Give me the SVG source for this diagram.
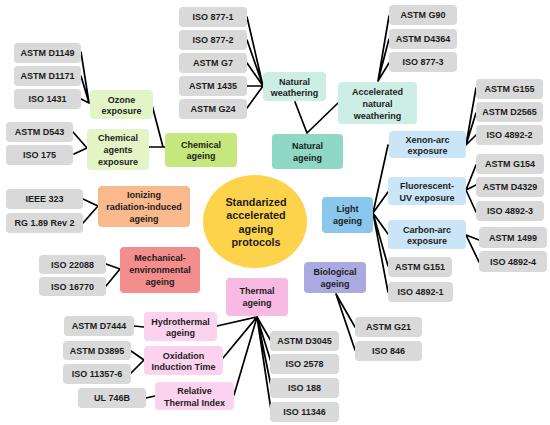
<svg xmlns="http://www.w3.org/2000/svg" width="550" height="425" viewBox="0 0 550 425">
<style>
.g rect{fill:#d9d9d9}
rect{rx:4}
text{font-family:"Liberation Sans",Arial,sans-serif;font-weight:bold;font-size:9px;fill:#1c1c1c;text-anchor:middle}
.c text{font-size:10.8px}
.lg rect{fill:#e3f5c6}
.cg rect{fill:#c6e77e}
.lt rect{fill:#cdeee5}
.tl rect{fill:#8ed8c5}
.lb rect{fill:#c9e5f7}
.bl rect{fill:#8bc6ec}
.bio rect{fill:#a9aae0}
.or rect{fill:#f9b98c}
.rd rect{fill:#f38e8d}
.pk rect{fill:#f8b9e2}
.lp rect{fill:#fcd3ef}
#connectors path{fill:none;stroke:#000;stroke-width:1.7;stroke-linecap:round;stroke-linejoin:round}
</style>
<rect width="550" height="425" fill="#fff" rx="0"/>

<g id="connectors">
<path d="M247,17 L263,86 M247,40 L263,86 M247,63 L263,86 M247,86 L263,86 M247,108 L263,86"/>
<path d="M389,16 L378,81 M389,39 L378,81 M389,63 L378,81"/>
<path d="M295,102 L307,133 L338,103"/>
<path d="M81,52 L89,103 M81,76 L89,103 M81,99 L89,103"/>
<path d="M73,132 L87,148 M74,154 L87,148"/>
<path d="M152,105 L163,147 M149,147 L165,147"/>
<path d="M83,199 L98,206 M83,223 L98,206"/>
<path d="M106,264 L120,269 M106,286 L120,269"/>
<path d="M373,213 L388,145 M373,213 L388,192 M373,213 L388,234 M373,213 L388,266 M373,213 L388,292"/>
<path d="M476,88 L466,145 M476,113 L466,145 M476,135 L466,145"/>
<path d="M476,165 L466,190 M476,185 L466,190 M476,212 L466,190"/>
<path d="M479,240 L466,235 M479,262 L466,235"/>
<path d="M336,294 L355,327 M336,294 L355,350"/>
<path d="M257,317 L217,326 M257,317 L223,358 M257,317 L234,395 M257,317 L271,341 M257,317 L271,362 M257,317 L271,386 M257,317 L271,410"/>
<path d="M134,326 L144,327 M131,351 L144,360 M131,373 L144,360 M146,398 L155,396"/>
</g>

<g id="center" class="c">
<ellipse cx="255" cy="221.5" rx="52" ry="46.5" fill="#fed34c"/>
<text x="256" y="206">Standarized</text>
<text x="256" y="219.3">accelerated</text>
<text x="256" y="232.6">ageing</text>
<text x="256" y="245.9">protocols</text>
</g>

<g id="chemical-ageing" class="cg"><rect x="165" y="133" width="72" height="34"/><text x="201" y="147.5">Chemical</text><text x="201" y="159">ageing</text></g>
<g id="ozone-exposure" class="lg"><rect x="90" y="90" width="63" height="29"/><text x="121.5" y="102.5">Ozone</text><text x="121.5" y="114">exposure</text></g>
<g id="chemical-agents-exposure" class="lg"><rect x="87" y="129" width="62" height="41"/><text x="118" y="141">Chemical</text><text x="118" y="153">agents</text><text x="118" y="165">exposure</text></g>
<g id="astm-d1149" class="g"><rect x="14" y="43" width="67" height="20"/><text x="47.5" y="56">ASTM D1149</text></g>
<g id="astm-d1171" class="g"><rect x="14" y="66" width="67" height="20"/><text x="47.5" y="79">ASTM D1171</text></g>
<g id="iso-1431" class="g"><rect x="14" y="89" width="67" height="20"/><text x="47.5" y="102">ISO 1431</text></g>
<g id="astm-d543" class="g"><rect x="6" y="122" width="67" height="20"/><text x="39.5" y="135">ASTM D543</text></g>
<g id="iso-175" class="g"><rect x="6" y="145" width="67" height="20"/><text x="39.5" y="158">ISO 175</text></g>

<g id="natural-ageing" class="tl"><rect x="272" y="134" width="71" height="35"/><text x="307.5" y="149">Natural</text><text x="307.5" y="160.5">ageing</text></g>
<g id="natural-weathering" class="lt"><rect x="263" y="72" width="63" height="29"/><text x="294.5" y="84.5">Natural</text><text x="294.5" y="96">weathering</text></g>
<g id="accelerated-natural-weathering" class="lt"><rect x="338" y="82" width="79" height="42"/><text x="377.5" y="94.5">Accelerated</text><text x="377.5" y="106.5">natural</text><text x="377.5" y="118.5">weathering</text></g>
<g id="iso-877-1" class="g"><rect x="179" y="7" width="68" height="20"/><text x="213" y="20">ISO 877-1</text></g>
<g id="iso-877-2" class="g"><rect x="179" y="30" width="68" height="20"/><text x="213" y="43">ISO 877-2</text></g>
<g id="astm-g7" class="g"><rect x="179" y="53" width="68" height="20"/><text x="213" y="66">ASTM G7</text></g>
<g id="astm-1435" class="g"><rect x="179" y="76" width="68" height="20"/><text x="213" y="89">ASTM 1435</text></g>
<g id="astm-g24" class="g"><rect x="179" y="99" width="68" height="20"/><text x="213" y="112">ASTM G24</text></g>
<g id="astm-g90" class="g"><rect x="389" y="5" width="68" height="20"/><text x="423" y="18">ASTM G90</text></g>
<g id="astm-d4364" class="g"><rect x="389" y="29" width="68" height="20"/><text x="423" y="42">ASTM D4364</text></g>
<g id="iso-877-3" class="g"><rect x="389" y="52" width="68" height="20"/><text x="423" y="65">ISO 877-3</text></g>

<g id="light-ageing" class="bl"><rect x="322" y="197" width="51" height="36"/><text x="347.5" y="212">Light</text><text x="347.5" y="223.5">ageing</text></g>
<g id="xenon-arc-exposure" class="lb"><rect x="389" y="131" width="77" height="27"/><text x="427.5" y="142.5">Xenon-arc</text><text x="427.5" y="154">exposure</text></g>
<g id="fluorescent-uv-exposure" class="lb"><rect x="388" y="177" width="78" height="28"/><text x="427" y="189">Fluorescent-</text><text x="427" y="200.5">UV exposure</text></g>
<g id="carbon-arc-exposure" class="lb"><rect x="388" y="220" width="78" height="29"/><text x="427" y="232.5">Carbon-arc</text><text x="427" y="244">exposure</text></g>
<g id="astm-g155" class="g"><rect x="476" y="79" width="67" height="20"/><text x="509.5" y="92">ASTM G155</text></g>
<g id="astm-d2565" class="g"><rect x="476" y="102" width="67" height="20"/><text x="509.5" y="115">ASTM D2565</text></g>
<g id="iso-4892-2" class="g"><rect x="476" y="125" width="67" height="20"/><text x="509.5" y="138">ISO 4892-2</text></g>
<g id="astm-g154" class="g"><rect x="476" y="154" width="68" height="20"/><text x="510" y="167">ASTM G154</text></g>
<g id="astm-d4329" class="g"><rect x="476" y="177" width="68" height="20"/><text x="510" y="190">ASTM D4329</text></g>
<g id="iso-4892-3" class="g"><rect x="476" y="201" width="68" height="20"/><text x="510" y="214">ISO 4892-3</text></g>
<g id="astm-1499" class="g"><rect x="479" y="227" width="68" height="21"/><text x="513" y="240.5">ASTM 1499</text></g>
<g id="iso-4892-4" class="g"><rect x="479" y="251" width="68" height="21"/><text x="513" y="264.5">ISO 4892-4</text></g>
<g id="astm-g151" class="g"><rect x="388" y="257" width="64" height="20"/><text x="420" y="270">ASTM G151</text></g>
<g id="iso-4892-1" class="g"><rect x="388" y="282" width="65" height="20"/><text x="420.5" y="295">ISO 4892-1</text></g>

<g id="biological-ageing" class="bio"><rect x="304" y="262" width="62" height="31"/><text x="335" y="275">Biological</text><text x="335" y="286.5">ageing</text></g>
<g id="astm-g21" class="g"><rect x="355" y="317" width="67" height="20"/><text x="388.5" y="330">ASTM G21</text></g>
<g id="iso-846" class="g"><rect x="355" y="341" width="67" height="20"/><text x="388.5" y="354">ISO 846</text></g>

<g id="ionizing-radiation-induced-ageing" class="or"><rect x="98" y="186" width="92" height="41"/><text x="144" y="198">Ionizing</text><text x="144" y="210">radiation-induced</text><text x="144" y="222">ageing</text></g>
<g id="ieee-323" class="g"><rect x="6" y="189" width="77" height="20"/><text x="44.5" y="202">IEEE 323</text></g>
<g id="rg-189-rev-2" class="g"><rect x="6" y="213" width="77" height="20"/><text x="44.5" y="226">RG 1.89 Rev 2</text></g>

<g id="mechanical-environmental-ageing" class="rd"><rect x="120" y="247" width="80" height="46"/><text x="160" y="261">Mechanical-</text><text x="160" y="273">environmental</text><text x="160" y="285">ageing</text></g>
<g id="iso-22088" class="g"><rect x="39" y="255" width="67" height="19"/><text x="72.5" y="267.5">ISO 22088</text></g>
<g id="iso-16770" class="g"><rect x="39" y="277" width="67" height="19"/><text x="72.5" y="289.5">ISO 16770</text></g>

<g id="thermal-ageing" class="pk"><rect x="226" y="278" width="62" height="38"/><text x="257" y="294">Thermal</text><text x="257" y="305.5">ageing</text></g>
<g id="hydrothermal-ageing" class="lp"><rect x="144" y="312" width="73" height="29"/><text x="180.5" y="324.5">Hydrothermal</text><text x="180.5" y="336">ageing</text></g>
<g id="oxidation-induction-time" class="lp"><rect x="144" y="346" width="79" height="29"/><text x="183.5" y="358.5">Oxidation</text><text x="183.5" y="370">Induction Time</text></g>
<g id="relative-thermal-index" class="lp"><rect x="155" y="382" width="79" height="28"/><text x="194.5" y="394">Relative</text><text x="194.5" y="405.5">Thermal Index</text></g>
<g id="astm-d7444" class="g"><rect x="64" y="316" width="70" height="20"/><text x="99" y="329">ASTM D7444</text></g>
<g id="astm-d3895" class="g"><rect x="63" y="341" width="68" height="19"/><text x="97" y="353.5">ASTM D3895</text></g>
<g id="iso-11357-6" class="g"><rect x="63" y="364" width="68" height="20"/><text x="97" y="377">ISO 11357-6</text></g>
<g id="ul-746b" class="g"><rect x="78" y="388" width="68" height="20"/><text x="112" y="401">UL 746B</text></g>
<g id="astm-d3045" class="g"><rect x="270" y="331" width="69" height="20"/><text x="304.5" y="344">ASTM D3045</text></g>
<g id="iso-2578" class="g"><rect x="270" y="354" width="69" height="20"/><text x="304.5" y="367">ISO 2578</text></g>
<g id="iso-188" class="g"><rect x="270" y="378" width="69" height="20"/><text x="304.5" y="391">ISO 188</text></g>
<g id="iso-11346" class="g"><rect x="270" y="402" width="69" height="20"/><text x="304.5" y="415">ISO 11346</text></g>
</svg>
